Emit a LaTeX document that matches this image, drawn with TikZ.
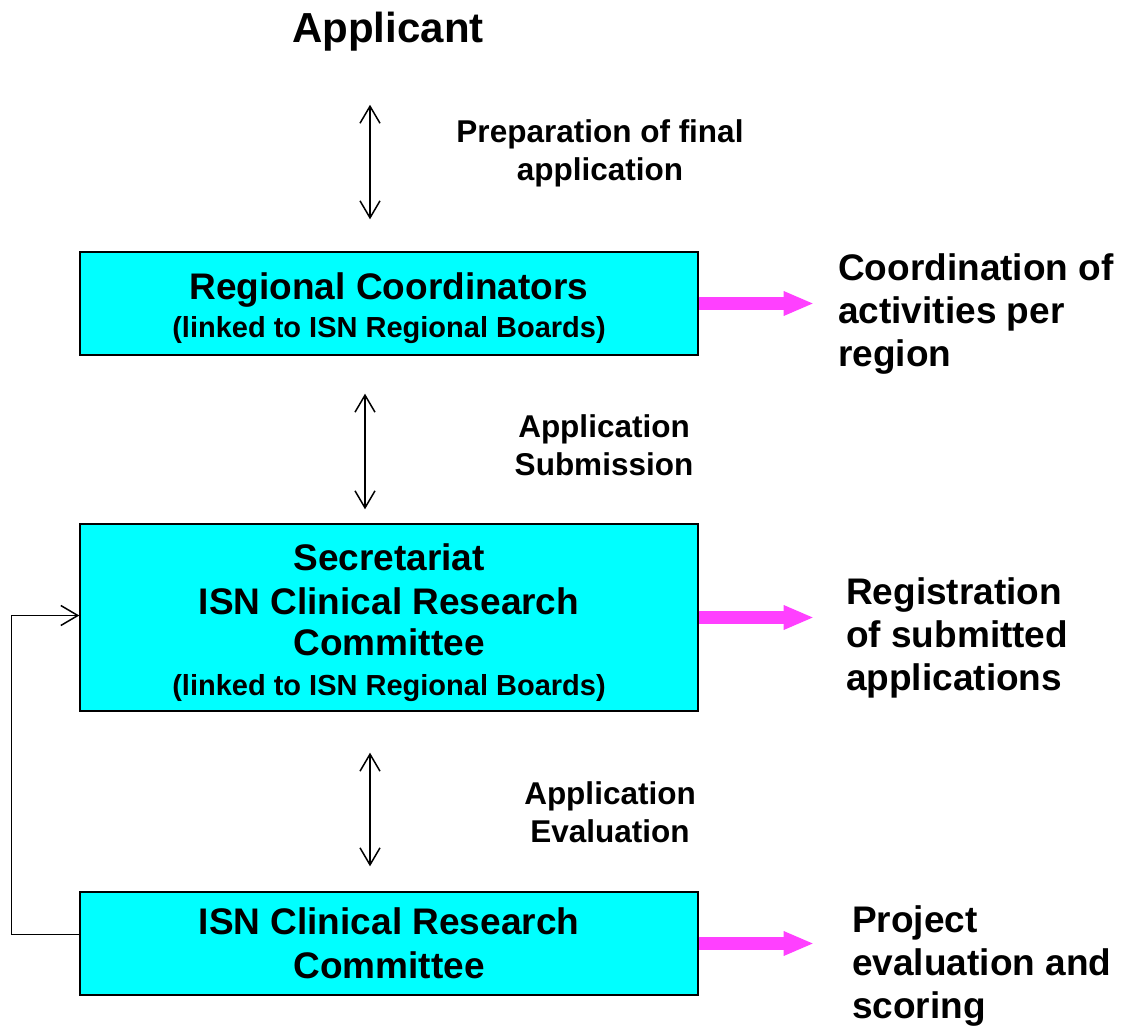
\documentclass[tikz,border=0pt]{standalone}
\usepackage{fontspec}
\setmainfont{Liberation Sans}
\usepackage{tikz}
\usetikzlibrary{arrows.meta}
\definecolor{boxcyan}{RGB}{0,255,255}
\definecolor{notepink}{RGB}{255,64,255}

\newcommand{\titlefnt}{\fontsize{42}{48}\selectfont\bfseries}
\newcommand{\boxfnt}{\fontsize{37}{44}\selectfont\bfseries}
\newcommand{\linkfnt}{\fontsize{29}{42}\selectfont\bfseries}
\newcommand{\labelfnt}{\fontsize{31.5}{38}\selectfont\bfseries}
\newcommand{\notefnt}{\fontsize{37}{43}\selectfont\bfseries}

\begin{document}
\begin{tikzpicture}[x=1pt,y=-1pt,
    box/.style={draw=black, line width=1.4pt, fill=boxcyan, minimum width=618pt,
                align=center, inner sep=0pt, font=\boxfnt},
    lbl/.style={align=center, inner sep=0pt, font=\labelfnt},
    note/.style={align=left, anchor=west, inner sep=0pt, font=\notefnt},
    dbl/.style={line width=1.5pt, {Straight Barb[length=17pt,width=20pt]}-{Straight Barb[length=17pt,width=20pt]}},
    back/.style={line width=1.5pt, -{Straight Barb[length=17pt,width=20pt]}},
    pinkarr/.style={draw=notepink, line width=13pt,
                    -{Triangle[length=29pt,width=25pt,line width=0pt]}}]
        \useasboundingbox (0,0) rectangle (1137,1030);

        % Applicant
        \node[inner sep=0pt, font=\titlefnt] (app) at (388,32) {Applicant};

        % Boxes
        \node[box, minimum height=103pt] (rc) at (389,303.5)
            {\rule{0pt}{36pt}Regional Coordinators\\[-6pt] \linkfnt (linked to ISN Regional Boards)};
        \node[box, minimum height=187pt] (sec) at (389,617.5)
            {\rule{0pt}{38pt}Secretariat\\ ISN Clinical Research\\[-3pt] Committee\\[-4pt] \linkfnt (linked to ISN Regional Boards)};
        \node[box, minimum height=103pt] (crc) at (389,943.5)
            {ISN Clinical Research\\ Committee};

        % Labels between boxes
        \node[lbl] (prep) at (600,153) {Preparation of final\\ application};
        \node[lbl] (subm) at (604,445) {Application\\ Submission};
        \node[lbl] (eval) at (610,812) {Application\\ Evaluation};

        % Notes on the right
        \node[note] (rcnote) at (838,314) {Coordination of\\ activities per\\ region};
        \node[note] (secnote) at (846,638) {Registration\\ of submitted\\ applications};
        \node[note] (crcnote) at (852,966) {Project\\ evaluation and\\ scoring};

        % Double arrows
        \draw[dbl, shorten <=53pt, shorten >=32pt] ([xshift=-18pt]app.south) -- ([xshift=-19pt]rc.north);
        \draw[dbl, shorten <=38pt, shorten >=14pt] ([xshift=-24pt]rc.south) -- ([xshift=-24pt]sec.north);
        \draw[dbl, shorten <=41pt, shorten >=25pt] ([xshift=-19pt]sec.south) -- ([xshift=-19pt]crc.north);

        % Feedback
        \draw[back] ([yshift=9pt]crc.west) -- ++(-68,0) |- ([yshift=2pt]sec.west);

        % Pink arrows
        \draw[pinkarr] (rc.east) -- ([xshift=114pt]rc.east);
        \draw[pinkarr] (sec.east) -- ([xshift=114pt]sec.east);
        \draw[pinkarr] (crc.east) -- ([xshift=114pt]crc.east);
    \end{tikzpicture}
\end{document}
